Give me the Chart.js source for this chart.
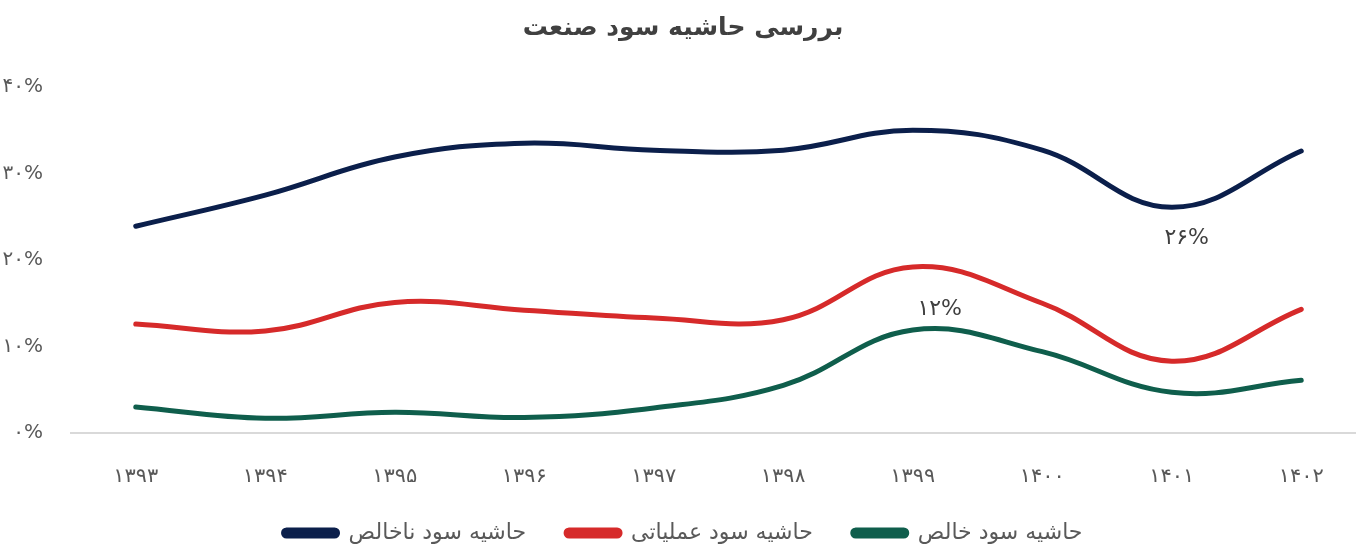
<!DOCTYPE html>
<html>
<head>
<meta charset="utf-8">
<title>بررسی حاشیه سود صنعت</title>
<script src="https://cdn.jsdelivr.net/npm/chart.js@4.4.0/dist/chart.umd.min.js"></script>
<style>
  html, body { margin: 0; padding: 0; background: #fff; overflow: hidden; }
  #wrap { width: 1366px; height: 554px; }
</style>
</head>
<body>
<div id="wrap"><canvas id="margins"></canvas></div>
<script>
// years (solar hijri) and margins in percent
var years = ['۱۳۹۳', '۱۳۹۴', '۱۳۹۵', '۱۳۹۶', '۱۳۹۷', '۱۳۹۸', '۱۳۹۹', '۱۴۰۰', '۱۴۰۱', '۱۴۰۲'];
var grossMargin = [23.9, 27.5, 31.9, 33.5, 32.7, 32.7, 35.0, 32.7, 26.1, 32.6];
var operatingMargin = [12.6, 11.8, 15.1, 14.2, 13.3, 13.1, 19.2, 15.0, 8.3, 14.3];
var netMargin = [3.0, 1.7, 2.4, 1.8, 2.9, 5.5, 11.9, 9.4, 4.7, 6.1];
var seriesNames = ['حاشیه سود ناخالص', 'حاشیه سود عملیاتی', 'حاشیه سود خالص'];
var yTicks = [0, 10, 20, 30, 40];

var FONT = '"DejaVu Sans", sans-serif';
var faDigits = '۰۱۲۳۴۵۶۷۸۹';

function toFa(n) {
    return String(n).replace(/[0-9]/g, function (d) { return faDigits[+d]; });
}

// labels shown on two points only: [dataset, index, dx, dy]
var pointLabels = [
    [0, 8, 15, 31],
    [2, 6, 27, -21]
];

var markLabels = {
    id: 'markLabels',
    afterDatasetsDraw: function (chart) {
        var ctx = chart.ctx;
        ctx.save();
        ctx.font = '22px ' + FONT;
        ctx.fillStyle = '#404040';
        ctx.textAlign = 'center';
        ctx.textBaseline = 'middle';
        pointLabels.forEach(function (p) {
            var el = chart.getDatasetMeta(p[0]).data[p[1]];
            var v = chart.data.datasets[p[0]].data[p[1]];
            ctx.fillText(toFa(Math.round(v)) + '%', el.x + p[2], el.y + p[3]);
        });
        ctx.restore();
    }
};

function line(label, data, color) {
    return {
        label: label,
        data: data,
        borderColor: color,
        backgroundColor: color,
        borderWidth: 5,
        borderCapStyle: 'round',
        pointRadius: 0,
        pointHoverRadius: 0,
        tension: 0.4,
        fill: false
    };
}

var chart = new Chart('margins', {
    type: 'line',
    data: {
        labels: years,
        datasets: [
            line(seriesNames[0], grossMargin, '#0b1f4b'),
            line(seriesNames[1], operatingMargin, '#d62a2a'),
            line(seriesNames[2], netMargin, '#0f5e4c')
        ]
    },
    plugins: [markLabels],
    options: {
        responsive: true,
        maintainAspectRatio: false,
        animation: false,
        layout: { padding: 0 },
        plugins: {
            title: {
                display: true,
                text: 'بررسی حاشیه سود صنعت',
                color: '#404040',
                font: { family: FONT, size: 25, weight: 'bold' },
                padding: { top: 13, bottom: 44 }
            },
            legend: {
                position: 'bottom',
                labels: {
                    boxWidth: 54,
                    boxHeight: 6,
                    useBorderRadius: true,
                    borderRadius: 3,
                    padding: 40,
                    color: '#595959',
                    font: { family: FONT, size: 22 }
                }
            },
            tooltip: { enabled: false }
        },
        scales: {
            x: {
                offset: true,
                afterFit: function (axis) { axis.height = 49; },
                grid: { display: false, drawTicks: false },
                border: { display: true, color: '#d9d9d9', width: 2 },
                ticks: {
                    color: '#595959',
                    font: { family: FONT, size: 21, lineHeight: 1 },
                    padding: 34,
                    maxRotation: 0
                }
            },
            y: {
                min: yTicks[0],
                max: yTicks[yTicks.length - 1],
                afterBuildTicks: function (axis) {
                    axis.ticks = yTicks.map(function (v) { return { value: v }; });
                },
                afterFit: function (axis) { axis.width = 71; },
                grid: { display: false, drawTicks: false },
                border: { display: false },
                ticks: {
                    color: '#595959',
                    font: { family: FONT, size: 20 },
                    padding: 28,
                    callback: function (v) { return toFa(v) + '%'; }
                }
            }
        }
    }
});
</script>
</body>
</html>
